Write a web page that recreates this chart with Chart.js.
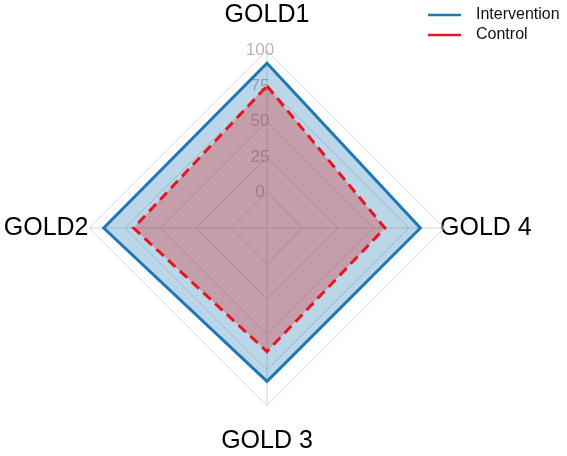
<!DOCTYPE html>
<html>
<head>
<meta charset="utf-8">
<script src="https://cdn.jsdelivr.net/npm/chart.js@4"></script>
<style>
  html, body { margin: 0; padding: 0; background: #fff; }
  #wrap { width: 567px; height: 456px; }
</style>
</head>
<body>
<div id="wrap"><canvas id="radar"></canvas></div>
<script>
// data (clockwise from top)
const categories = ['GOLD1', 'GOLD 4', 'GOLD 3', 'GOLD2'];
const interventionValues = [91, 83, 83, 90];
const controlValues = [75, 58, 62, 69];
const tickValues = [0, 25, 50, 75, 100];

const blue = 'rgb(31,119,180)';
const red = 'rgb(232,22,30)';

// small legend in the top right corner, lines instead of boxes
const cornerLegend = {
  id: 'cornerLegend',
  afterDraw(chart) {
    const ctx = chart.ctx;
    ctx.save();
    ctx.font = '16px "Liberation Sans", Arial, sans-serif';
    ctx.textBaseline = 'middle';
    chart.data.datasets.forEach((ds, i) => {
      const y = 15 + i * 20;
      ctx.strokeStyle = ds.borderColor;
      ctx.lineWidth = 2.5;
      ctx.setLineDash([]);
      ctx.beginPath();
      ctx.moveTo(428, y);
      ctx.lineTo(461, y);
      ctx.stroke();
      ctx.fillStyle = '#111';
      ctx.fillText(ds.label, 476, y);
    });
    ctx.restore();
  }
};

new Chart(document.getElementById('radar'), {
  type: 'radar',
  data: {
    labels: categories,
    datasets: [{
      label: 'Intervention',
      data: interventionValues,
      borderColor: blue,
      backgroundColor: 'rgba(31,119,180,0.3)',
      borderWidth: 3,
      pointRadius: 0,
      fill: 'start',
      order: 1
    }, {
      label: 'Control',
      data: controlValues,
      borderColor: red,
      backgroundColor: 'rgba(214,39,40,0.32)',
      borderWidth: 3,
      borderDash: [10, 6],
      pointRadius: 0,
      fill: 'start',
      order: 0
    }]
  },
  plugins: [cornerLegend],
  options: {
    responsive: true,
    maintainAspectRatio: false,
    animation: false,
    layout: { padding: { top: -2, bottom: 0, left: -8, right: 30 } },
    plugins: {
      legend: { display: false },
      tooltip: { enabled: false }
    },
    scales: {
      r: {
        min: -25,
        max: 100,
        ticks: {
          stepSize: 25,
          color: 'rgba(170,170,170,0.85)',
          font: { size: 17, family: '"Liberation Sans", Arial, sans-serif' },
          showLabelBackdrop: false,
          backdropPadding: 0,
          // labels sit a little left of the axis in the original
          callback: v => tickValues.includes(v) ? v + '   ' : ''
        },
        grid: { color: '#d4d4d4', lineWidth: 1 },
        angleLines: { color: '#d4d4d4', lineWidth: 1 },
        pointLabels: {
          color: '#000',
          font: { size: 25, family: '"Liberation Sans", Arial, sans-serif' },
          padding: ctx => [12, -13, 12, -7.5][ctx.index]
        }
      }
    }
  }
});
</script>
</body>
</html>
